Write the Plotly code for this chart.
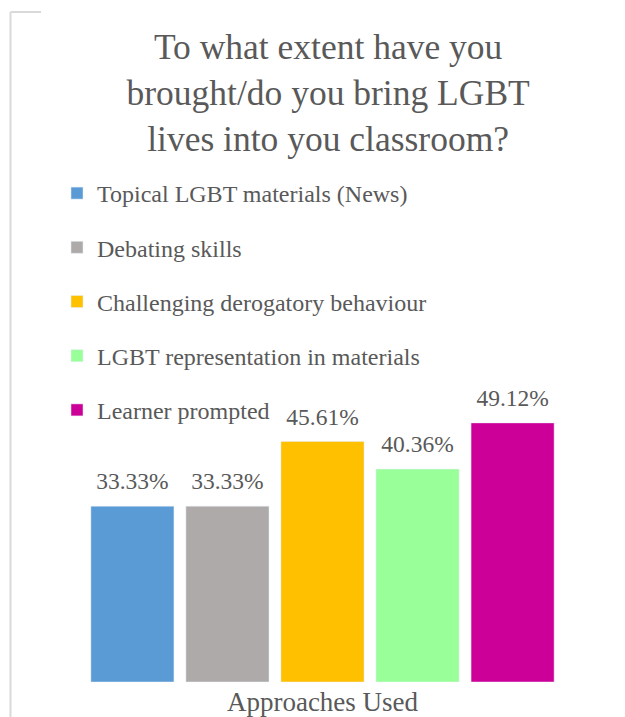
import plotly.graph_objects as go

categories = ["Approaches Used"]
series_names = [
    "Topical LGBT materials (News)",
    "Debating skills",
    "Challenging derogatory behaviour",
    "LGBT representation in materials",
    "Learner prompted",
]
series_values = [33.33, 33.33, 45.61, 40.36, 49.12]
colors = ["#5B9BD5", "#AEAAAA", "#FFC000", "#99FF99", "#CC0099"]

W, H = 625, 717
ML, MR, MT, MB = 50, 30, 170, 35
FONT = "Liberation Serif"
TXT = "#595959"

fig = go.Figure()
for i, (name, val, col) in enumerate(zip(series_names, series_values, colors)):
    fig.add_trace(go.Bar(
        x=categories, y=[val], name=name, marker_color=col,
        texttemplate="<span style='font-size:23.5px'>%{y:.2f}%</span><br> ",
        textposition="outside",
        textfont=dict(family=FONT, size=9, color=TXT),
        cliponaxis=False, legendgroup=f"g{i}",
    ))

plot_h = H - MT - MB
fig.update_layout(
    width=W, height=H,
    margin=dict(l=ML, r=MR, t=MT, b=MB, autoexpand=False),
    paper_bgcolor="white", plot_bgcolor="white",
    barmode="group", bargap=0.128, bargroupgap=0.126,
    uniformtext=dict(minsize=0),
    font=dict(family=FONT, color=TXT),
    title=dict(
        text="To what extent have you<br>brought/do you bring LGBT<br>lives into you classroom?",
        x=0.525, xanchor="center", xref="container",
        y=1 - 59 / H, yanchor="top", yref="container",
        font=dict(family=FONT, size=35.5, color=TXT),
        automargin=False,
    ),
    legend=dict(
        x=7 / (W - ML - MR), xanchor="left", y=1 - 1 / plot_h, yanchor="top",
        font=dict(family=FONT, size=24, color=TXT),
        bgcolor="rgba(0,0,0,0)", tracegroupgap=20, traceorder="grouped",
    ),
    showlegend=True,
    xaxis=dict(showgrid=False, showline=False, zeroline=False, ticks="",
               automargin=False, ticklabelstandoff=1,
               tickfont=dict(family=FONT, size=27, color=TXT)),
    yaxis=dict(visible=False, range=[0, plot_h / 5.275], automargin=False),
)

# chart-frame decoration (light grey partial border)
pw = W - ML - MR
ph = plot_h
def px_x(p):
    return (p - ML) / pw
def px_y(p):
    return (H - MB - p) / ph
fig.add_shape(type="line", xref="paper", yref="paper",
              x0=px_x(10.5), x1=px_x(10.5), y0=px_y(12), y1=px_y(H),
              line=dict(color="#D9D9D9", width=2))
fig.add_shape(type="line", xref="paper", yref="paper",
              x0=px_x(10.5), x1=px_x(41), y0=px_y(12), y1=px_y(12),
              line=dict(color="#D9D9D9", width=2))

fig.write_html("out.html")
